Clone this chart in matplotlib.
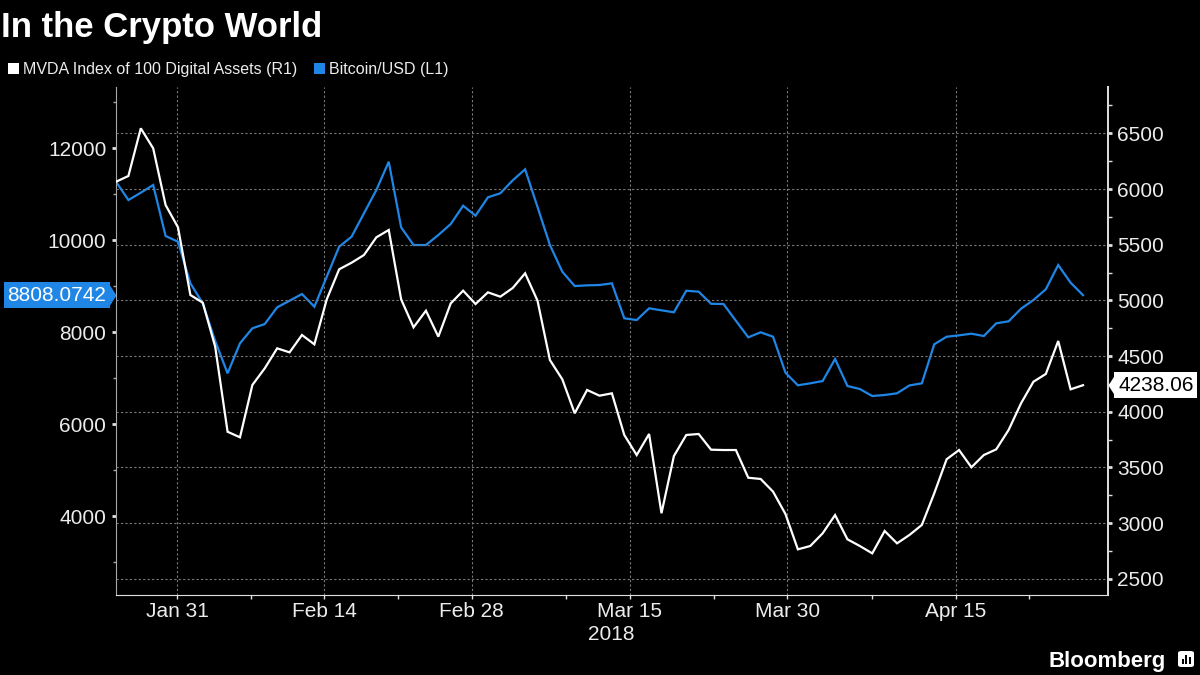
import numpy as np
import pandas as pd
import matplotlib
matplotlib.use('Agg')
import matplotlib.pyplot as plt
import matplotlib.dates as mdates
import matplotlib.transforms as mtransforms
from matplotlib.patches import Patch, FancyBboxPatch, Rectangle

plt.rcParams['font.family'] = ['Liberation Sans', 'DejaVu Sans']

# Datos (79 observaciones, 25 ene - 27 abr 2018)
fechas = pd.date_range('2018-01-25 05:00', '2018-04-27 02:00', periods=79)

# Bitcoin/USD (eje izquierdo)
btc = [11274, 10876, 11035, 11202, 10093, 9970, 9065, 8630, 7811, 7108,
       7761, 8087, 8180, 8543, 8687, 8832, 8557, 9209, 9861, 10078,
       10587, 11093, 11709, 10282, 9898, 9898, 10115, 10354, 10752, 10535,
       10935, 11022, 11304, 11543, 10724, 9898, 9317, 9006, 9021, 9028,
       9065, 8304, 8267, 8522, 8478, 8435, 8904, 8883, 8620, 8615,
       8252, 7891, 8000, 7904, 7122, 6848, 6891, 6941, 7420, 6833,
       6767, 6615, 6637, 6674, 6845, 6891, 7739, 7904, 7934, 7970,
       7919, 8195, 8239, 8513, 8702, 8935, 9463, 9078, 8808.0742]

# MVDA Index (eje derecho)
mvda = [6065, 6117, 6545, 6365, 5856, 5656, 5048, 4979, 4584, 3820,
        3770, 4240, 4390, 4569, 4533, 4689, 4605, 5009, 5279, 5338,
        5407, 5566, 5632, 5009, 4758, 4907, 4674, 4973, 5087, 4967,
        5072, 5033, 5111, 5243, 4997, 4464, 4291, 3986, 4195, 4144,
        4165, 3791, 3611, 3800, 3088, 3602, 3791, 3800, 3659, 3656,
        3656, 3407, 3396, 3282, 3081, 2764, 2794, 2908, 3072, 2854,
        2794, 2728, 2929, 2818, 2893, 2983, 3267, 3573, 3656, 3501,
        3611, 3662, 3836, 4075, 4269, 4339, 4635, 4201, 4238.06]

ticks_fecha = ['2018-01-31', '2018-02-14', '2018-02-28', '2018-03-15', '2018-03-30', '2018-04-15']
ticks_menores = ['2018-02-07', '2018-02-21', '2018-03-09', '2018-03-23', '2018-04-07', '2018-04-22']
ticks_btc = [4000, 6000, 8000, 10000, 12000]
ticks_btc_menores = [3000, 5000, 7000, 9000, 11000, 13000]
ticks_mvda = [2500, 3000, 3500, 4000, 4500, 5000, 5500, 6000, 6500]
ticks_mvda_menores = [2750, 3250, 3750, 4250, 4750, 5250, 5750, 6250, 6750]

AZUL = '#1f86e6'
TXT = '#ececec'
GRID = '#7a7a7a'

fig = plt.figure(figsize=(12, 6.75), dpi=100, facecolor='black')
ax = fig.add_axes([116 / 1200, 1 - 595 / 675, (1108 - 116) / 1200, (595 - 87) / 675])
ax.set_facecolor('black')
ax2 = ax.twinx()

ax.plot(fechas, btc, color=AZUL, lw=1.6, solid_joinstyle='miter')
ax2.plot(fechas, mvda, color='white', lw=1.6, solid_joinstyle='miter')

ax.set_xlim(fechas[0], pd.Timestamp('2018-04-29 11:00'))
ax.set_ylim(2289, 13333)
ax2.set_ylim(2354, 6916)

# ejes
ax.xaxis.set_major_locator(matplotlib.ticker.FixedLocator(mdates.date2num(pd.to_datetime(ticks_fecha))))
ax.xaxis.set_minor_locator(matplotlib.ticker.FixedLocator(mdates.date2num(pd.to_datetime(ticks_menores))))
ax.xaxis.set_major_formatter(mdates.DateFormatter('%b %d'))
ax.set_yticks(ticks_btc)
ax.set_yticks(ticks_btc_menores, minor=True)
ax2.set_yticks(ticks_mvda)
ax2.set_yticks(ticks_mvda_menores, minor=True)

for a in (ax, ax2):
    a.spines['top'].set_visible(False)
ax.spines['right'].set_visible(False)
ax2.spines['left'].set_visible(False)
ax2.spines['bottom'].set_visible(False)
ax.spines['left'].set_color('#a8a8a8')
ax.spines['bottom'].set_color('#e0e0e0')
ax2.spines['right'].set_color('#e0e0e0')
ax2.spines['right'].set_linewidth(1.4)

ax.tick_params(axis='x', which='major', length=3, width=1, color='#e0e0e0',
               labelcolor=TXT, labelsize=15, pad=2)
ax.tick_params(axis='x', which='minor', length=3, width=1, color='#e0e0e0')
ax.tick_params(axis='y', which='major', length=3, width=2, color='#e0e0e0',
               labelcolor=TXT, labelsize=15, pad=4)
ax.tick_params(axis='y', which='minor', length=2, width=1, color='#a8a8a8')
ax2.tick_params(axis='y', which='major', length=3, width=2, color='#e0e0e0',
                labelcolor=TXT, labelsize=15, pad=3.5)
ax2.tick_params(axis='y', which='minor', length=3, width=1, color='#e0e0e0')

# rejilla punteada
ax.grid(axis='x', which='major', color=GRID, lw=0.8, linestyle=(0, (2, 2)))
ax2.grid(axis='y', which='major', color=GRID, lw=0.8, linestyle=(0, (2, 2)))
ax.set_axisbelow(True)

# año bajo el eje
ax.text(pd.Timestamp('2018-03-13 06:00'), -0.077, '2018', transform=ax.get_xaxis_transform(),
        ha='center', va='center', fontsize=15, color=TXT)

# etiquetas del último valor
tr_izq = mtransforms.blended_transform_factory(ax.transAxes, ax.transData)
ax.annotate(f'{btc[-1]:.4f}', xy=(0, btc[-1]), xycoords=tr_izq, xytext=(-10, 0),
            textcoords='offset pixels', ha='right', va='center', fontsize=15, color='white',
            bbox=dict(boxstyle='square,pad=0.17', fc=AZUL, ec='none'), annotation_clip=False)
ax.plot([0], [btc[-1]], transform=tr_izq, marker=[(-0.64, 1), (0, 0), (-0.64, -1)],
        ms=18, color=AZUL, mew=0, clip_on=False)

tr_der = mtransforms.blended_transform_factory(ax2.transAxes, ax2.transData)
ax2.annotate(f'{mvda[-1]:.2f}', xy=(1, mvda[-1]), xycoords=tr_der, xytext=(10, 0),
             textcoords='offset pixels', ha='left', va='center', fontsize=15, color='black',
             bbox=dict(boxstyle='square,pad=0.17', fc='white', ec='none'), annotation_clip=False)
ax2.plot([1], [mvda[-1]], transform=tr_der, marker=[(0.64, 1), (0, 0), (0.64, -1)],
         ms=18, color='white', mew=0, clip_on=False)

# título y leyenda
fig.text(0.001, 1 - 36.7 / 675, 'In the Crypto World', ha='left', va='baseline',
         fontsize=25, fontweight='bold', color='white')

handles = [Patch(facecolor='white', edgecolor='none'), Patch(facecolor=AZUL, edgecolor='none')]
etiquetas = ['MVDA Index of 100 Digital Assets (R1)', 'Bitcoin/USD (L1)']
leg = fig.legend(handles, etiquetas, loc='center left', bbox_to_anchor=(8 / 1200, 1 - 69.5 / 675),
                 ncol=2, frameon=False, fontsize=11.5, handlelength=0.7, handleheight=0.7,
                 handletextpad=0.25, columnspacing=1.05, borderpad=0, borderaxespad=0)
for t in leg.get_texts():
    t.set_color(TXT)

# marca Bloomberg
fig.text(1048 / 1200, 1 - 666.5 / 675, 'Bloomberg', ha='left', va='baseline',
         fontsize=16, fontweight='bold', color='white')
fig.patches.append(FancyBboxPatch((1178 / 1200, 1 - 667 / 675), 16 / 1200, 16 / 675,
                                  boxstyle='round,pad=0,rounding_size=0.003', fc='white', ec='none',
                                  transform=fig.transFigure, figure=fig))
for i, h in enumerate([5, 9, 7]):
    fig.patches.append(Rectangle(((1181.5 + i * 3.5) / 1200, 1 - 664 / 675), 2 / 1200, h / 675,
                                 fc='black', ec='none', transform=fig.transFigure, figure=fig))

fig.savefig('out.png', dpi=100, facecolor='black')
